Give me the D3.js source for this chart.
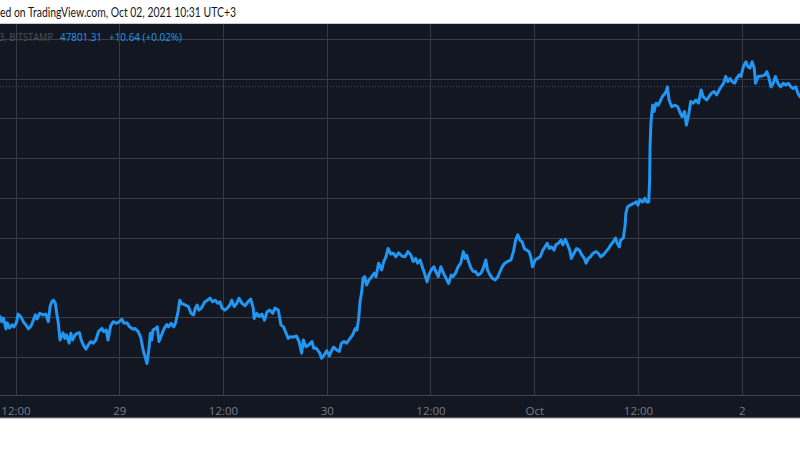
<!DOCTYPE html>
<html><head><meta charset="utf-8">
<script src="https://cdn.jsdelivr.net/npm/d3@7"></script>
<style>html,body{margin:0;padding:0;background:#fff;overflow:hidden}svg{display:block}</style>
</head><body>
<svg id="c" width="800" height="450"></svg>
<script>
// ---- data (hours since 2021-09-28 00:00, price USD) ----
const btc = [
[10.2,42020],[10.4,41890],[10.6,41980],[10.9,41710],[11.05,41860],[11.3,41730],[11.6,41810],[11.8,41760],[12.1,41860],[12.3,42080],[12.6,42020],[12.9,41890],[13.2,41810],[13.5,41710],[13.8,41780],[14.0,41890],[14.3,42060],[14.5,41960],[14.8,42100],[15.2,42060],[15.5,42080],[15.8,41890],[16.0,42270],[16.2,42390],[16.4,42430],[16.6,42360],[16.8,42060],[16.95,41860],[17.15,41430],[17.3,41510],[17.5,41610],[17.7,41470],[17.9,41560],[18.2,41350],[18.4,41600],[18.6,41430],[18.9,41560],[19.15,41600],[19.4,41610],[19.6,41430],[19.85,41300],[20.15,41200],[20.4,41300],[20.7,41390],[21.0,41350],[21.3,41430],[21.6,41640],[22.0,41720],[22.2,41640],[22.5,41680],[22.7,41430],[23.0,41780],[23.3,41890],[23.7,41850],[24.0,41890],[24.3,41950],[24.55,41850],[24.9,41860],[25.2,41760],[25.6,41700],
[25.8,41720],[26.2,41640],[26.5,41480],[26.8,41140],[27.0,41010],[27.2,40840],[27.4,41140],[27.6,41600],[27.75,41430],[27.9,41680],[28.2,41720],[28.4,41760],[28.6,41390],[28.9,41560],[29.2,41720],[29.5,41820],[29.7,41760],[30.0,41850],[30.3,41760],[30.5,41850],[30.8,42140],[31.0,42430],[31.2,42350],[31.6,42310],[32.0,42270],[32.3,42100],[32.6,42060],[32.8,42230],[33.0,42310],[33.2,42180],[33.5,42230],[33.9,42390],[34.2,42430],[34.5,42480],[34.8,42390],[35.1,42430],[35.4,42350],[35.65,42390],[35.9,42230],[36.2,42180],[36.5,42230],[36.8,42310],[37.0,42430],[37.3,42270],[37.6,42350],[37.85,42480],[38.2,42350],[38.55,42290],[38.9,42390],[39.2,42460],[39.5,42230],[39.6,41970],[39.9,42100],[40.2,42020],[40.5,42080],[40.8,41930],[41.1,42140],[41.4,42180],
[41.75,42100],[42.0,42230],[42.4,42180],[42.7,41810],[43.0,41760],[43.3,41600],[43.55,41470],[43.8,41510],[44.1,41500],[44.5,41530],[44.8,41390],[45.1,41100],[45.3,41430],[45.6,41260],[45.9,41300],[46.3,41390],[46.5,41220],[46.8,41220],[47.2,41100],[47.4,40970],[47.7,41050],[48.0,41160],[48.3,41030],[48.6,41180],[48.8,41250],[49.15,41180],[49.45,41140],[49.7,41350],[50.0,41390],[50.3,41350],[50.7,41470],[51.0,41560],[51.3,41720],[51.5,41680],[51.7,41980],[51.85,42390],[52.05,42640],[52.2,42980],[52.4,43020],[52.6,42810],[52.9,42940],[53.2,43020],[53.5,43110],[53.7,43020],[54.0,43360],[54.2,43270],[54.35,43190],[54.6,43400],[54.85,43520],[55.1,43730],[55.4,43590],[55.7,43610],[56.0,43520],[56.3,43620],[56.7,43540],[57.05,43520],
[57.4,43650],[57.75,43560],[58.0,43400],[58.3,43480],[58.5,43360],[58.8,43440],[59.05,43270],[59.3,43110],[59.6,42890],[59.8,43060],[60.1,43190],[60.4,43270],[60.7,43110],[60.9,43020],[61.2,43270],[61.5,43110],[61.8,42980],[62.1,42850],[62.4,43060],[62.6,43020],[62.9,43110],[63.2,43270],[63.5,43360],[63.8,43650],[64.0,43480],[64.2,43560],[64.4,43400],[64.7,43230],[64.95,43150],[65.2,43150],[65.5,43060],[65.85,43110],[66.1,43230],[66.4,43440],[66.6,43190],[66.9,43060],[67.15,42980],[67.5,42940],[67.8,43020],[68.05,43150],[68.3,43270],[68.6,43360],[68.9,43400],[69.3,43440],[69.6,43650],[69.85,43940],[70.1,44070],[70.35,43940],[70.6,43900],[70.85,43730],[71.1,43690],[71.4,43650],[71.6,43520],[71.8,43270],[72.1,43440],[72.4,43480],[72.7,43520],
[73.0,43690],[73.25,43770],[73.5,43860],[73.75,43730],[74.0,43770],[74.3,43690],[74.5,43820],[74.8,43860],[75.1,43940],[75.3,43820],[75.6,43960],[75.8,43860],[76.1,43690],[76.3,43480],[76.6,43610],[76.9,43730],[77.2,43690],[77.5,43570],[77.8,43480],[78.0,43360],[78.25,43480],[78.5,43520],[78.8,43610],[79.15,43650],[79.4,43610],[79.7,43520],[80.0,43570],[80.3,43650],[80.6,43730],[80.85,43820],[81.15,43900],[81.4,43990],[81.6,43860],[81.85,43770],[82.0,43940],[82.3,43990],[82.5,44280],[82.6,44610],[82.8,44780],[83.1,44820],[83.5,44860],[83.8,44900],[84.0,44820],[84.2,44950],[84.55,44900],[84.8,44990],[85.0,44900],[85.25,44900],[85.35,45450],[85.4,46290],[85.5,46870],[85.6,47130],[85.7,47330],[85.85,47170],[86.1,47380],[86.35,47330],[86.55,47420],[86.8,47540],[87.0,47590],[87.25,47670],[87.4,47790],[87.6,47460],[87.9,47290],[88.3,47330],
[88.6,47290],[88.9,47130],[89.1,47040],[89.4,47170],[89.6,46830],[89.9,47130],[90.1,47420],[90.4,47380],[90.7,47460],[91.0,47380],[91.3,47710],[91.55,47540],[91.95,47460],[92.2,47540],[92.5,47630],[92.8,47670],[93.1,47590],[93.4,47710],[93.6,47790],[93.9,47880],[94.15,48050],[94.4,47920],[94.65,48000],[94.9,47920],[95.2,47880],[95.4,48000],[95.7,48090],[95.9,48050],[96.2,48300],[96.5,48420],[96.7,48300],[96.95,48260],[97.2,48420],[97.45,48260],[97.6,47880],[97.9,48050],[98.3,48060],[98.7,48090],[98.9,48170],[99.1,48050],[99.4,47790],[99.65,47880],[99.9,48050],[100.2,47880],[100.5,47790],[100.8,47880],[101.1,47840],[101.4,47880],[101.7,47790],[101.95,47750],[102.25,47790],[102.5,47630],[102.74,47540]
];
const tickHours = [12, 24, 36, 48, 60, 72, 84, 96];
const tickLabels = ["12:00", "29", "12:00", "30", "12:00", "Oct", "12:00", "2"];
const priceGrid = [41000, 42000, 43000, 44000, 45000, 46000, 47000, 48000, 49000];
const lastPrice = 47801.31;
const headerText = "ed on TradingView.com, Oct 02, 2021 10:31 UTC+3";
const symbolText = "3, BITSTAMP";
const priceText = "47801.31";
const changeText = "+10.64 (+0.02%)";

// ---- drawing ----
const base = Date.UTC(2021, 8, 28);
const toDate = h => new Date(base + h * 3600e3);
const svg = d3.select("#c");
const W = 800, panelTop = 23.5, axisY = 395.5, panelBottom = 418;
const x = d3.scaleUtc().domain([toDate(12), toDate(96)]).range([15.5, 741.7]);
const y = d3.scaleLinear().domain([40000, 49000]).range([396.9, 38.7]);

svg.append("rect").attr("x",0).attr("y",0).attr("width",W).attr("height",450).attr("fill","#fff");
svg.append("rect").attr("x",0).attr("y",panelTop).attr("width",W).attr("height",panelBottom-panelTop).attr("fill","#131722");
svg.append("line").attr("x1",0).attr("x2",W).attr("y1",panelTop).attr("y2",panelTop).attr("stroke","#c9cbd1").attr("stroke-width",1);
svg.append("line").attr("x1",0).attr("x2",W).attr("y1",panelBottom).attr("y2",panelBottom).attr("stroke","#9a9ca3").attr("stroke-width",1.2);

// clip for plot
svg.append("clipPath").attr("id","plot").append("rect").attr("x",0).attr("y",panelTop+0.5).attr("width",W).attr("height",axisY-panelTop-0.5);

const grid = svg.append("g").attr("clip-path","url(#plot)");
grid.selectAll("line.h").data(priceGrid).join("line")
  .attr("x1",0).attr("x2",W)
  .attr("y1",d=>Math.round(y(d))+0.5).attr("y2",d=>Math.round(y(d))+0.5)
  .attr("stroke","#3a3e49").attr("stroke-width",1);
grid.selectAll("line.v").data(tickHours).join("line")
  .attr("x1",d=>Math.round(x(toDate(d)))+0.5).attr("x2",d=>Math.round(x(toDate(d)))+0.5)
  .attr("y1",panelTop).attr("y2",axisY)
  .attr("stroke","#363a45").attr("stroke-width",1);

// last price dotted line
grid.append("line").attr("x1",0).attr("x2",W)
  .attr("y1",Math.round(y(lastPrice))+0.5).attr("y2",Math.round(y(lastPrice))+0.5)
  .attr("stroke","#2196f3").attr("stroke-opacity",0.5).attr("stroke-width",1).attr("stroke-dasharray","1,2");

// axis
const xAxis = d3.axisBottom(x)
  .tickValues(tickHours.map(toDate))
  .tickFormat((d,i)=>tickLabels[i])
  .tickSize(0).tickPadding(11);
const ax = svg.append("g").attr("transform",`translate(0,${axisY})`).call(xAxis);
ax.select(".domain").attr("stroke","#434651").attr("d",`M0,0H${W}`);
ax.selectAll("text").attr("fill","#787b86").attr("font-family","Open Sans, sans-serif").attr("font-size","11.5px");

// price line
const line = d3.line().x(d=>x(toDate(d[0]))).y(d=>y(d[1])).curve(d3.curveLinear);
svg.append("path").datum(btc).attr("clip-path","url(#plot)")
  .attr("d",line).attr("fill","none").attr("stroke","#2196f3")
  .attr("stroke-width",3).attr("stroke-linejoin","round").attr("stroke-linecap","round");

// header
svg.append("text").attr("x",0).attr("y",17).text(headerText)
  .attr("fill","#131722").attr("font-family","Lato, sans-serif").attr("font-size","13px")
  .attr("textLength",236).attr("lengthAdjust","spacingAndGlyphs");

// legend
const lg = svg.append("g").attr("font-family","Open Sans, sans-serif").attr("font-size","11px");
lg.append("text").attr("x",-1).attr("y",40.5).text(symbolText).attr("fill","#4c4f59")
  .attr("textLength",54).attr("lengthAdjust","spacingAndGlyphs");
lg.append("text").attr("x",60).attr("y",40.5).text(priceText).attr("fill","#2196f3")
  .attr("textLength",42).attr("lengthAdjust","spacingAndGlyphs");
lg.append("text").attr("x",109).attr("y",40.5).text(changeText).attr("fill","#2196f3")
  .attr("textLength",73).attr("lengthAdjust","spacingAndGlyphs");
</script>
</body></html>
